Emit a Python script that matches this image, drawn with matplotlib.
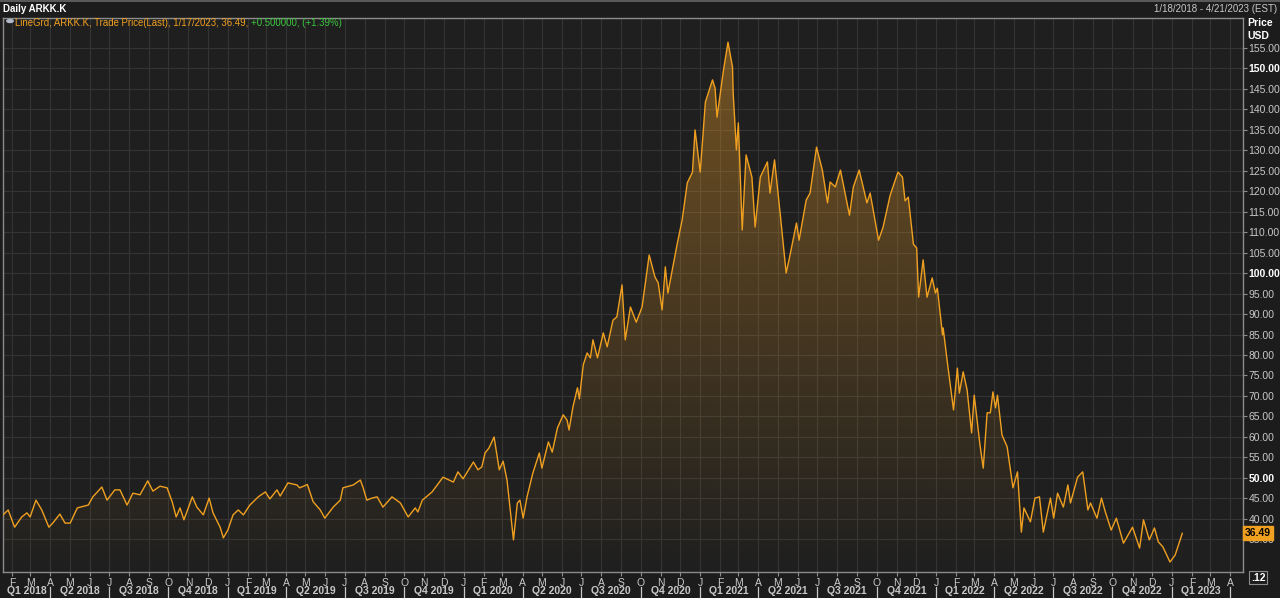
import matplotlib
matplotlib.use("Agg")
import matplotlib.pyplot as plt
import matplotlib.dates as mdates
import matplotlib.transforms as mtransforms
import numpy as np
import pandas as pd

# ---------------- data ----------------
dates = [
    "2018-01-18", "2018-01-26", "2018-02-05", "2018-02-16", "2018-02-24", "2018-03-01",
    "2018-03-10", "2018-03-19", "2018-03-30", "2018-04-05", "2018-04-16", "2018-04-24",
    "2018-05-02", "2018-05-13", "2018-05-30", "2018-06-06", "2018-06-20", "2018-06-28",
    "2018-07-10", "2018-07-18", "2018-07-29", "2018-08-07", "2018-08-18", "2018-08-30",
    "2018-09-07", "2018-09-18", "2018-09-29", "2018-10-07", "2018-10-13", "2018-10-19",
    "2018-10-25", "2018-11-07", "2018-11-14", "2018-11-24", "2018-12-03", "2018-12-09",
    "2018-12-20", "2018-12-25", "2019-01-01", "2019-01-09", "2019-01-17", "2019-01-25",
    "2019-02-04", "2019-02-17", "2019-02-28", "2019-03-07", "2019-03-18", "2019-03-23",
    "2019-04-04", "2019-04-18", "2019-04-22", "2019-05-04", "2019-05-13", "2019-05-24",
    "2019-05-31", "2019-06-13", "2019-06-24", "2019-06-28", "2019-07-14", "2019-07-25",
    "2019-07-29", "2019-08-04", "2019-08-12", "2019-08-20", "2019-08-29", "2019-09-12",
    "2019-09-25", "2019-10-07", "2019-10-18", "2019-10-22", "2019-10-29", "2019-11-13",
    "2019-11-30", "2019-12-16", "2019-12-23", "2019-12-31", "2020-01-16", "2020-01-23",
    "2020-01-29", "2020-02-03", "2020-02-09", "2020-02-17", "2020-02-25", "2020-03-02",
    "2020-03-08", "2020-03-16", "2020-03-18", "2020-03-24", "2020-03-28", "2020-04-02",
    "2020-04-08", "2020-04-17", "2020-04-27", "2020-05-01", "2020-05-11", "2020-05-17",
    "2020-05-25", "2020-06-03", "2020-06-09", "2020-06-12", "2020-06-18", "2020-06-25",
    "2020-06-28", "2020-07-04", "2020-07-10", "2020-07-15", "2020-07-19", "2020-07-26",
    "2020-08-04", "2020-08-10", "2020-08-19", "2020-08-25", "2020-09-02", "2020-09-07",
    "2020-09-15", "2020-09-24", "2020-10-03", "2020-10-14", "2020-10-23", "2020-10-28",
    "2020-11-03", "2020-11-08", "2020-11-12", "2020-11-26", "2020-12-04", "2020-12-12",
    "2020-12-20", "2020-12-24", "2021-01-01", "2021-01-09", "2021-01-20", "2021-01-24",
    "2021-01-27", "2021-02-06", "2021-02-13", "2021-02-20", "2021-02-21", "2021-02-26",
    "2021-03-01", "2021-03-07", "2021-03-13", "2021-03-22", "2021-03-27", "2021-04-04",
    "2021-04-15", "2021-04-19", "2021-04-26", "2021-05-05", "2021-05-14", "2021-05-20",
    "2021-05-30", "2021-06-03", "2021-06-14", "2021-06-20", "2021-06-30", "2021-07-09",
    "2021-07-17", "2021-07-21", "2021-07-29", "2021-08-06", "2021-08-20", "2021-08-26",
    "2021-09-04", "2021-09-16", "2021-09-21", "2021-10-04", "2021-10-11", "2021-10-22",
    "2021-11-03", "2021-11-10", "2021-11-14", "2021-11-19", "2021-11-27", "2021-12-02",
    "2021-12-05", "2021-12-12", "2021-12-18", "2021-12-26", "2021-12-31", "2022-01-03",
    "2022-01-11", "2022-01-12", "2022-01-18", "2022-01-28", "2022-02-03", "2022-02-06",
    "2022-02-12", "2022-02-18", "2022-02-25", "2022-03-01", "2022-03-10", "2022-03-15",
    "2022-03-21", "2022-03-26", "2022-03-30", "2022-04-03", "2022-04-06", "2022-04-13",
    "2022-04-21", "2022-04-30", "2022-05-07", "2022-05-13", "2022-05-17", "2022-05-27",
    "2022-06-03", "2022-06-10", "2022-06-16", "2022-06-27", "2022-07-02", "2022-07-08",
    "2022-07-17", "2022-07-24", "2022-07-28", "2022-08-08", "2022-08-16", "2022-08-24",
    "2022-08-28", "2022-09-07", "2022-09-14", "2022-09-20", "2022-09-29", "2022-10-07",
    "2022-10-18", "2022-11-01", "2022-11-12", "2022-11-18", "2022-11-27", "2022-12-05",
    "2022-12-11", "2022-12-18", "2022-12-29", "2023-01-06", "2023-01-17",
]
prices = [
    41.0, 42.2, 38.0, 40.5, 41.5, 40.5,
    44.6, 42.2, 38.0, 39.0, 41.2, 39.0,
    39.0, 42.7, 43.4, 45.4, 47.8, 44.6,
    47.1, 47.1, 43.4, 46.3, 45.9, 49.3,
    46.8, 48.0, 47.6, 44.1, 40.5, 42.7,
    39.8, 45.4, 42.9, 41.0, 45.1, 41.5,
    38.0, 35.4, 37.3, 41.0, 42.2, 41.0,
    43.4, 45.4, 46.6, 44.9, 47.1, 45.6,
    48.8, 48.3, 47.6, 48.4, 44.2, 42.2,
    40.2, 42.9, 44.6, 47.6, 48.3, 49.5,
    47.8, 44.6, 45.1, 45.4, 42.9, 45.4,
    43.9, 40.5, 42.7, 41.7, 44.6, 46.6,
    50.2, 49.0, 51.5, 49.8, 53.9, 52.0,
    52.7, 56.1, 57.3, 60.0, 52.0, 54.1,
    49.5, 38.0, 34.9, 43.9, 44.6, 40.2,
    45.4, 51.2, 56.1, 52.4, 58.8, 56.3,
    62.2, 65.4, 64.1, 61.7, 67.3, 72.0,
    69.3, 77.6, 80.5, 79.3, 83.7, 79.3,
    85.4, 82.0, 88.5, 89.3, 97.1, 83.7,
    91.7, 88.0, 91.7, 104.4, 99.0, 97.6,
    91.0, 101.5, 95.1, 106.8, 112.9, 122.0,
    124.6, 134.9, 124.6, 141.7, 147.1, 145.1,
    138.0, 149.5, 156.3, 150.2, 143.9, 130.0,
    136.6, 110.5, 128.8, 123.4, 111.2, 123.4,
    127.1, 119.5, 127.6, 114.1, 100.0, 104.4,
    112.2, 108.0, 117.8, 119.5, 130.7, 125.1,
    117.1, 122.2, 121.0, 125.1, 114.1, 121.0,
    125.1, 117.1, 119.5, 108.0, 111.2, 119.0,
    124.6, 123.4, 117.6, 118.5, 107.0, 106.1,
    94.1, 103.2, 94.1, 98.8, 95.1, 96.3,
    84.9, 86.6, 78.8, 66.6, 76.8, 70.7,
    75.9, 71.5, 61.0, 70.2, 58.0, 52.4,
    65.9, 65.9, 71.0, 67.1, 70.2, 60.5,
    57.6, 47.6, 51.5, 36.8, 42.7, 39.3,
    45.1, 45.4, 36.8, 45.1, 40.2, 46.3,
    42.9, 48.3, 43.9, 50.2, 51.5, 42.2,
    43.9, 40.2, 45.1, 41.7, 37.3, 40.2,
    34.1, 38.0, 32.9, 39.8, 34.9, 37.8,
    34.4, 33.2, 29.5, 31.2, 36.49,
]

x_start = "2018-01-18"
x_end = "2023-04-21"
y_min, y_max = 27.07, 162.2
price_ticks = list(range(35, 160, 5))
bold_ticks = [50, 100, 150]
month_letters = ["J", "F", "M", "A", "M", "J", "J", "A", "S", "O", "N", "D"]

title_left = "Daily ARKK.K"
title_right = "1/18/2018 - 4/21/2023 (EST)"
legend_main = "LineGrd, ARKK.K, Trade Price(Last), 1/17/2023, 36.49, "
legend_change = "+0.500000, (+1.39%)"
last_price = 36.49

# ---------------- style ----------------
FONT = ["Liberation Sans", "DejaVu Sans"]
plt.rcParams["font.family"] = FONT
BG = "#1c1c1c"
AX_BG = "#1f1f1f"
GRID = "#343434"
SPINE = "#8c8c8c"
LINE = "#f0a020"
TXT = "#c8c8c8"

W, H = 1280, 598
fig = plt.figure(figsize=(W / 100, H / 100), dpi=100, facecolor=BG)
AX_H = 572 - 18
ax = fig.add_axes([3 / W, 1 - 572 / H, (1243 - 3) / W, AX_H / H], facecolor=AX_BG)

x = pd.to_datetime(dates)
y = np.array(prices)
x0, x1 = pd.Timestamp(x_start), pd.Timestamp(x_end)

# gradient fill under the line
fill = ax.fill_between(x, y, y_min, facecolor="none", edgecolor="none")
n = 256
grad = np.zeros((n, 1, 4))
base = np.array([240, 160, 40]) / 255.0
grad[:, 0, :3] = base
grad[:, 0, 3] = np.linspace(0.42, 0.0, n)  # top -> bottom
img = ax.imshow(grad, extent=[mdates.date2num(x0), mdates.date2num(x1), y_min, y_max],
                aspect="auto", origin="upper", zorder=1, interpolation="bilinear")
img.set_clip_path(fill.get_paths()[0], transform=ax.transData)

ax.plot(x, y, color=LINE, lw=1.0, zorder=3)

ax.set_xlim(x0, x1)
ax.set_ylim(y_min, y_max)

# month ticks
months = pd.date_range("2018-02-01", "2023-04-01", freq="MS")
ax.set_xticks(months)
ax.set_xticklabels([month_letters[m.month - 1] for m in months])
ax.tick_params(axis="x", direction="out", length=3, width=0.8, color=SPINE,
               labelcolor=TXT, labelsize=7.5, pad=1)
ax.grid(True, axis="both", color=GRID, lw=0.8, zorder=0)
ax.set_axisbelow(True)

# price ticks on the right
ax.yaxis.tick_right()
ax.set_yticks(price_ticks)
ax.set_yticklabels([f"{p:.2f}" for p in price_ticks])
ax.tick_params(axis="y", direction="out", length=3, width=0.8, color=SPINE,
               labelcolor=TXT, labelsize=7.5, pad=1)
for lab, p in zip(ax.get_yticklabels(), price_ticks):
    if p in bold_ticks:
        lab.set_fontweight("bold")
        lab.set_color("white")

for s in ax.spines.values():
    s.set_color(SPINE)
    s.set_linewidth(1.0)

# quarter labels and separators
trans = mtransforms.blended_transform_factory(ax.transData, ax.transAxes)
q_starts = pd.date_range("2018-01-01", "2023-04-01", freq="QS")
for qs in q_starts:
    qe = qs + pd.offsets.QuarterBegin(startingMonth=1)
    a = max(qs, x0)
    b = min(qe, x1)
    if (b - a).days > 40:
        mid = a + (b - a) / 2
        ax.text(mid, -19.5 / AX_H, f"Q{(qs.month - 1) // 3 + 1} {qs.year}", transform=trans,
                ha="center", va="center", fontsize=7.5, fontweight="bold", color=TXT,
                clip_on=False)
    if qs > x0:
        ax.plot([qs, qs], [-14.5 / AX_H, -25.5 / AX_H], transform=trans, color=TXT, lw=0.9,
                clip_on=False)

# header
fig.add_artist(plt.Line2D([0, 1], [1 - 0.5 / H, 1 - 0.5 / H], color="#666666", lw=1.2))
fig.text(3 / W, 1 - 9 / H, title_left, ha="left", va="center", fontsize=7,
         fontweight="bold", color="white")
fig.text(1277 / W, 1 - 9 / H, title_right, ha="right", va="center", fontsize=7, color=TXT)

# legend line
fig.add_artist(plt.Circle((10 / W, 1 - 21 / H), 3.2 / W, transform=fig.transFigure,
                          color="#b0b8c8"))
t1 = fig.text(15 / W, 1 - 22.5 / H, legend_main, ha="left", va="center",
              fontsize=6.9, color=LINE)
fig.canvas.draw()
bb = t1.get_window_extent()
fig.text(bb.x1 / W, 1 - 22.5 / H, legend_change, ha="left", va="center",
         fontsize=6.9, color="#3cc83c")

# axis title on the right
fig.text(1247 / W, 1 - 23 / H, "Price", ha="left", va="center", fontsize=7.5,
         fontweight="bold", color="white")
fig.text(1247 / W, 1 - 36 / H, "USD", ha="left", va="center", fontsize=7.5,
         fontweight="bold", color="white")

# last price tag
ytrans = mtransforms.blended_transform_factory(ax.transAxes, ax.transData)
ax.text(1.0015, last_price, f"{last_price:.2f}", transform=ytrans, ha="left", va="center",
        fontsize=7.5, fontweight="bold", color="black", clip_on=False, zorder=10,
        bbox=dict(boxstyle="square,pad=0.2", facecolor=LINE, edgecolor=LINE))

# small scroll box
ax.text(1.0065, -0.01, ".12", transform=ax.transAxes, ha="left", va="center",
        fontsize=7.5, fontweight="bold", color="white", clip_on=False,
        bbox=dict(boxstyle="square,pad=0.15", facecolor=BG, edgecolor=SPINE, lw=0.8))

fig.savefig("out.png", dpi=100, facecolor=BG)
